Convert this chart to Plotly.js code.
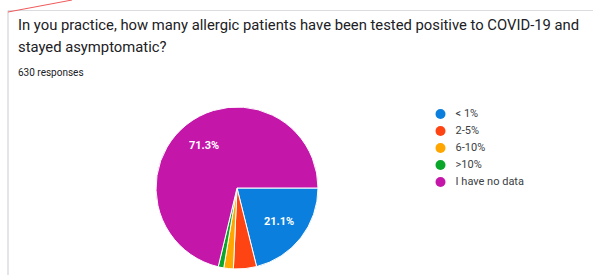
<!DOCTYPE html>
<html>
<head>
<meta charset="utf-8">
<script src="https://cdn.plot.ly/plotly-3.0.1.min.js"></script>
<style>html,body{margin:0;padding:0;background:#fff;}#chart{width:594px;height:275px;}</style>
</head>
<body>
<div id="chart"></div>
<script>
const categories = ['< 1%', '2-5%', '6-10%', '>10%', 'I have no data'];
const responses = [133, 29, 12, 7, 449];
const colors = ['#0b7fde', '#ff4414', '#ffa600', '#0aa62a', '#c516aa'];
const titleLines = ['In you practice, how many allergic patients have been tested positive to COVID-19 and', 'stayed asymptomatic?'];
const subtitle = '630 responses';
const total = responses.reduce((a, b) => a + b, 0);

const W = 594, H = 275;
const px = x => x / W;
const py = y => 1 - y / H;

// pie geometry (pixels)
const cx = 237, cy = 188, R = 81;
const startDeg = 90; // 3 o'clock, clockwise

const pieTrace = {
  type: 'pie',
  labels: categories,
  values: responses,
  sort: false,
  direction: 'clockwise',
  rotation: startDeg,
  marker: {colors: colors, line: {color: '#ffffff', width: 1}},
  textinfo: 'none',
  hoverinfo: 'label+percent',
  showlegend: false,
  domain: {x: [px(cx - R), px(cx + R)], y: [py(cy + R), py(cy - R)]}
};

// percent labels placed at slice mid-angles (computed from the data)
const pctAnnotations = [];
let cum = 0;
responses.forEach((v, i) => {
  const frac = v / total;
  const mid = (startDeg + (cum + frac / 2) * 360) * Math.PI / 180;
  cum += frac;
  if (frac < 0.1) return;
  const r = 0.665 * R;
  pctAnnotations.push({
    text: (frac * 100).toFixed(1) + '%',
    xref: 'paper', yref: 'paper',
    x: px(cx + r * Math.sin(mid)), y: py(cy - r * Math.cos(mid)),
    xanchor: 'center', yanchor: 'middle', showarrow: false,
    font: {family: 'Roboto, Arial, sans-serif', size: 11, color: '#ffffff', weight: 'bold'}
  });
});

const legendTrace = {
  type: 'scatter',
  mode: 'markers+text',
  x: categories.map(() => 0),
  y: categories,
  text: categories.map(c => '\u2002\u2009' + c),
  textposition: 'middle right',
  textfont: {family: 'Roboto, Arial, sans-serif', size: 11, color: '#3c4043'},
  marker: {color: colors, size: 10, symbol: 'circle'},
  cliponaxis: false,
  showlegend: false,
  hoverinfo: 'skip',
  xaxis: 'x', yaxis: 'y'
};

const layout = {
  width: W, height: H,
  margin: {l: 0, r: 0, t: 0, b: 0},
  paper_bgcolor: '#ffffff',
  plot_bgcolor: 'rgba(0,0,0,0)',
  xaxis: {visible: false, range: [0, 1], domain: [px(440.5), px(594)], fixedrange: true},
  yaxis: {visible: false, type: 'category', range: [4.5, -0.5], domain: [py(190.5), py(105.5)], fixedrange: true},
  showlegend: false,
  annotations: [
    {text: titleLines[0], xref: 'paper', yref: 'paper', x: px(16), y: py(25), xanchor: 'left', yanchor: 'middle', showarrow: false,
     font: {family: 'Roboto, Arial, sans-serif', size: 14.8, color: '#202124'}},
    {text: titleLines[1], xref: 'paper', yref: 'paper', x: px(16), y: py(47), xanchor: 'left', yanchor: 'middle', showarrow: false,
     font: {family: 'Roboto, Arial, sans-serif', size: 14.8, color: '#202124'}},
    {text: subtitle, xref: 'paper', yref: 'paper', x: px(16), y: py(73), xanchor: 'left', yanchor: 'middle', showarrow: false,
     font: {family: 'Roboto, Arial, sans-serif', size: 10, color: '#202124'}},
    ...pctAnnotations
  ],
  shapes: [
    {type: 'line', xref: 'paper', yref: 'paper', x0: px(8), x1: px(593), y0: py(10.5), y1: py(10.5), line: {color: '#dadce0', width: 1}},
    {type: 'line', xref: 'paper', yref: 'paper', x0: px(8), x1: px(8), y0: py(10.5), y1: py(275), line: {color: '#dadce0', width: 1.5}},
    {type: 'line', xref: 'paper', yref: 'paper', x0: px(8), x1: px(72), y0: py(12), y1: py(0), line: {color: '#f05a5a', width: 1}}
  ]
};

Plotly.newPlot('chart', [pieTrace, legendTrace], layout, {displayModeBar: false, staticPlot: true});
</script>
</body>
</html>
